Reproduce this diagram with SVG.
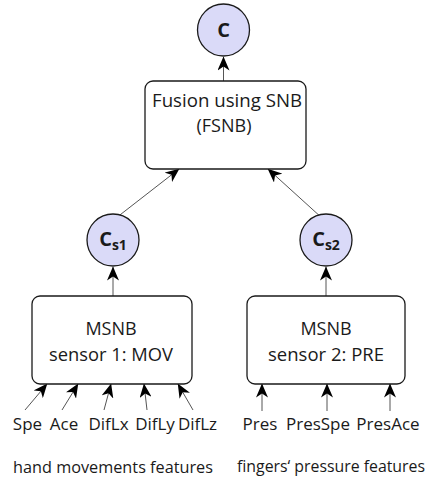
<svg xmlns="http://www.w3.org/2000/svg" width="431" height="485" viewBox="0 0 431 485">
  <style>
    .box { fill: #ffffff; stroke: #1a1a1a; stroke-width: 1.3; }
    .cls { fill: #dadaf8; stroke: #1a1a1a; stroke-width: 1.3; }
    .txt { font-family: "Open Sans", "Noto Sans", sans-serif; font-size: 18px; fill: #1a1a1a; text-anchor: middle; }
    .lbl { font-family: "Open Sans", "Noto Sans", sans-serif; font-size: 17px; fill: #1a1a1a; text-anchor: middle; }
    .lbl.left { font-size: 16px; text-anchor: start; }
    .cl { font-family: "Open Sans", "Noto Sans", sans-serif; font-size: 20px; font-weight: bold; fill: #1a1a1a; text-anchor: middle; }
    .sub { font-size: 14px; }
    .edge { stroke: #555555; stroke-width: 1; fill: none; marker-end: url(#head); }
  </style>
  <defs>
    <marker id="head" markerUnits="userSpaceOnUse" markerWidth="14" markerHeight="12" viewBox="0 0 14 12" refX="13.5" refY="6" orient="auto">
      <path d="M0,0 L14,6 L0,12 L4,6 Z" fill="#000000"/>
    </marker>
  </defs>

  <!-- connectors -->
  <g id="connectors">
    <line class="edge" x1="223.5" y1="81" x2="223.5" y2="57"/>
    <line class="edge" x1="116" y1="218" x2="179" y2="169"/>
    <line class="edge" x1="322" y1="218" x2="268" y2="169"/>
    <line class="edge" x1="113" y1="296" x2="113" y2="267"/>
    <line class="edge" x1="326" y1="296" x2="326" y2="267"/>
    <line class="edge" x1="25" y1="410" x2="47" y2="384"/>
    <line class="edge" x1="62" y1="410" x2="78" y2="384"/>
    <line class="edge" x1="104" y1="410" x2="111" y2="384"/>
    <line class="edge" x1="147" y1="410" x2="144" y2="384"/>
    <line class="edge" x1="193" y1="410" x2="178" y2="384"/>
    <line class="edge" x1="262" y1="411" x2="262" y2="384"/>
    <line class="edge" x1="327" y1="411" x2="327" y2="384"/>
    <line class="edge" x1="390" y1="411" x2="390" y2="384"/>
  </g>

  <!-- class outputs -->
  <g id="c">
    <circle class="cls" cx="223.5" cy="30" r="26"/>
    <text class="cl" x="223.5" y="37">C</text>
  </g>
  <g id="cs1">
    <circle class="cls" cx="113" cy="240" r="26"/>
    <text class="cl" x="113" y="246">C<tspan class="sub" dy="4">s1</tspan></text>
  </g>
  <g id="cs2">
    <circle class="cls" cx="326" cy="240" r="26"/>
    <text class="cl" x="326" y="246">C<tspan class="sub" dy="4">s2</tspan></text>
  </g>

  <!-- classifiers -->
  <g id="fsnb">
    <rect class="box" x="145" y="81" width="161" height="88" rx="8"/>
    <text class="txt" x="227" y="107" textLength="150" lengthAdjust="spacingAndGlyphs">Fusion using SNB</text>
    <text class="txt" x="224" y="132">(FSNB)</text>
  </g>
  <g id="msnb1">
    <rect class="box" x="32" y="296" width="160" height="88" rx="8"/>
    <text class="txt" x="111" y="335">MSNB</text>
    <text class="txt" x="111" y="361" textLength="124" lengthAdjust="spacingAndGlyphs">sensor 1: MOV</text>
  </g>
  <g id="msnb2">
    <rect class="box" x="247" y="296" width="158" height="88" rx="8"/>
    <text class="txt" x="326" y="335">MSNB</text>
    <text class="txt" x="326" y="361" textLength="116" lengthAdjust="spacingAndGlyphs">sensor 2: PRE</text>
  </g>

  <!-- input features -->
  <g id="feat-mov">
    <text class="lbl" x="27.5" y="430">Spe</text>
    <text class="lbl" x="64" y="430">Ace</text>
    <text class="lbl" x="108.5" y="430">DifLx</text>
    <text class="lbl" x="155" y="430">DifLy</text>
    <text class="lbl" x="197.5" y="430">DifLz</text>
    <text class="lbl" x="113" y="473" textLength="200" lengthAdjust="spacingAndGlyphs">hand movements features</text>
  </g>
  <g id="feat-pre">
    <text class="lbl" x="260" y="430">Pres</text>
    <text class="lbl" x="318" y="430">PresSpe</text>
    <text class="lbl" x="388" y="430">PresAce</text>
    <text class="lbl left" x="237" y="472" textLength="188" lengthAdjust="spacingAndGlyphs">fingers‘ pressure features</text>
  </g>
</svg>
